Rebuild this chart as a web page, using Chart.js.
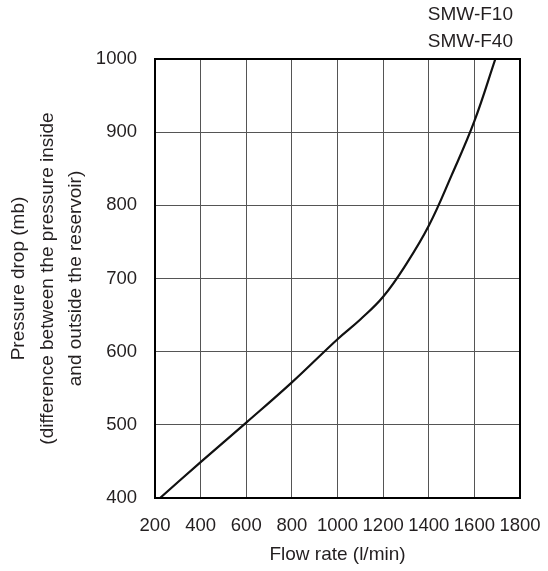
<!DOCTYPE html>
<html>
<head>
<meta charset="utf-8">
<script src="https://cdn.jsdelivr.net/npm/chart.js@4/dist/chart.umd.min.js"></script>
<style>
  html, body { margin: 0; padding: 0; background: #fff; }
  #wrap { width: 548px; height: 571px; position: relative; }
</style>
</head>
<body>
<div id="wrap"><canvas id="chart"></canvas></div>
<script>
// values
const flowRate = [222, 400, 600, 800, 1000, 1100, 1200, 1300, 1400, 1500, 1600, 1692];
const pressureDrop = [400, 449, 503, 558, 617, 644, 675, 719, 772, 841, 915, 1000];
const modelNames = ['SMW-F10', 'SMW-F40'];
const xTitle = 'Flow rate (l/min)';
const yTitle = [
  'Pressure drop (mb)',
  '(difference between the pressure inside',
  'and outside the reservoir)'
];

const textColor = '#231f20';
const font = 'Arial, "Liberation Sans", Helvetica, sans-serif';
const narrowFont = '"Liberation Sans Narrow", "Arial Narrow", ' + font;

// frame round the plot + model names above it
const framePlugin = {
  id: 'frame',
  afterDatasetsDraw(chart) {
    const { ctx, chartArea: a } = chart;
    ctx.save();
    ctx.strokeStyle = '#000';
    ctx.lineWidth = 2;
    ctx.strokeRect(a.left, a.top, a.right - a.left, a.bottom - a.top);
    ctx.fillStyle = textColor;
    ctx.font = '19px ' + font;
    ctx.textAlign = 'right';
    ctx.textBaseline = 'middle';
    modelNames.forEach((name, i) => {
      ctx.fillText(name, a.right - 7, 15 + i * 27);
    });
    ctx.restore();
  }
};

const points = flowRate.map((x, i) => ({ x: x, y: pressureDrop[i] }));

new Chart(document.getElementById('chart'), {
  type: 'scatter',
  data: {
    datasets: [{
      data: points,
      showLine: true,
      borderColor: '#111',
      borderWidth: 2.2,
      pointRadius: 0,
      tension: 0.4,
      fill: false
    }]
  },
  options: {
    responsive: true,
    maintainAspectRatio: false,
    animation: false,
    layout: { padding: { top: 59, right: 28, left: 0, bottom: 0 } },
    plugins: { legend: { display: false }, tooltip: { enabled: false } },
    scales: {
      x: {
        type: 'linear',
        min: 200,
        max: 1800,
        afterFit: (s) => {
          s.height = 73;
          s.paddingLeft = 0;
          s.paddingRight = 0;
        },
        ticks: {
          stepSize: 200,
          autoSkip: false,
          padding: 17,
          maxRotation: 0,
          color: textColor,
          callback: (v) => String(v),
          font: (c) => ({
            size: 18.5,
            family: c.tick && c.tick.value >= 1000 ? narrowFont : font
          })
        },
        grid: { color: '#555', lineWidth: 1, drawTicks: false },
        border: { display: false },
        title: {
          display: true,
          text: xTitle,
          color: textColor,
          font: { size: 19, family: font },
          padding: { top: 0, bottom: 5 }
        }
      },
      y: {
        min: 400,
        max: 1000,
        afterFit: (s) => {
          s.width = 155;
          s.paddingTop = 0;
          s.paddingBottom = 0;
        },
        ticks: {
          stepSize: 100,
          padding: 18,
          color: textColor,
          callback: (v) => String(v),
          font: { size: 18.5, family: font }
        },
        grid: { color: '#555', lineWidth: 1, drawTicks: false },
        border: { display: false },
        title: {
          display: true,
          text: yTitle,
          color: textColor,
          font: { size: 19, family: font, lineHeight: 1.5 },
          padding: { top: 5, bottom: 0 }
        }
      }
    }
  },
  plugins: [framePlugin]
});
</script>
</body>
</html>
